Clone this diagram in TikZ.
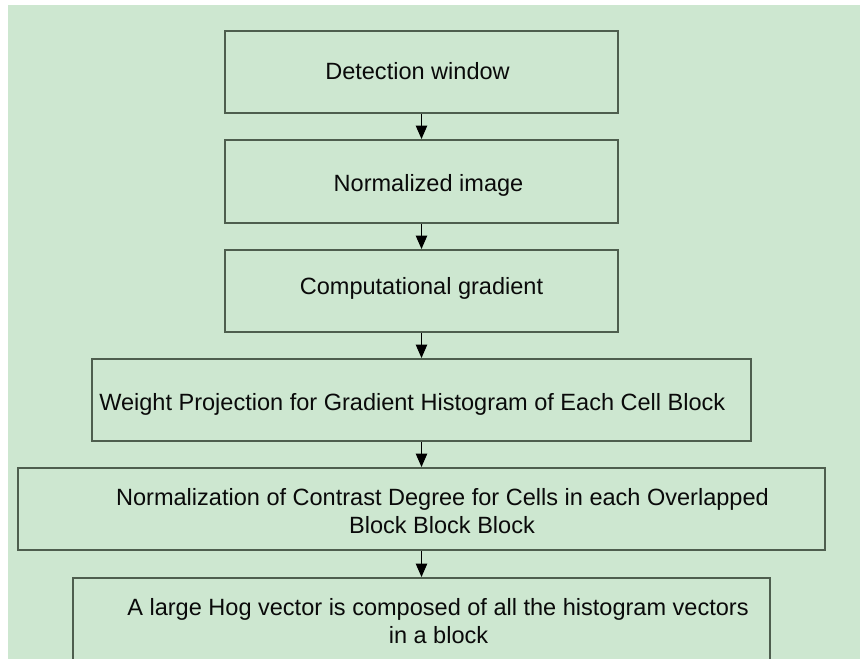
\documentclass[tikz,border=0pt]{standalone}
\usepackage{fontspec}
\setmainfont{Liberation Sans}
\usetikzlibrary{arrows.meta}
\definecolor{bgreen}{HTML}{CDE7D0}
\definecolor{edgec}{HTML}{4E5E4E}
\definecolor{inkc}{HTML}{0A0A0A}
\tikzset{
  stepbox/.style={draw=edgec, line width=1.5pt, fill=bgreen, inner sep=0pt, rectangle},
  label/.style={anchor=base, inner sep=0pt, text=inkc, font=\fontsize{17.65}{21}\selectfont},
  flow/.style={draw=black, line width=0.9pt, -{Triangle[length=10pt,width=8.5pt]}}
}
\begin{document}
\begin{tikzpicture}[x=0.75pt,y=-0.75pt]
  % page and background
  \useasboundingbox (0,0) rectangle (860,659);
  \fill[white] (0,0) rectangle (860,659);
  \fill[bgreen] (8,5) rectangle (860,659);

  % process boxes
  \node[stepbox, minimum width=294.75pt, minimum height=61.5pt] (b1) at (421.5,72) {};
  \node[stepbox, minimum width=294.75pt, minimum height=62.25pt] (b2) at (421.5,181.5) {};
  \node[stepbox, minimum width=294.75pt, minimum height=61.5pt] (b3) at (421.5,291) {};
  \node[stepbox, minimum width=494.25pt, minimum height=61.5pt] (b4) at (421.5,400) {};
  \node[stepbox, minimum width=605.25pt, minimum height=61.5pt] (b5) at (421.5,509) {};
  \node[stepbox, minimum width=522.75pt, minimum height=63pt] (b6) at (421.5,620) {};

  % box texts
  \node[label] (t1) at (417.5,80) {Detection window};
  \node[label] (t2) at (428.5,192) {Normalized image};
  \node[label] (t3) at (421.5,295) {Computational gradient};
  \node[label, anchor=base west] (t4) at (99,410) {Weight Projection for Gradient Histogram of Each Cell Block};
  \node[label] (t5a) at (442.5,505) {Normalization of Contrast Degree for Cells in each Overlapped};
  \node[label] (t5b) at (442,533) {Block Block Block};
  \node[label] (t6a) at (438,615) {A large Hog vector is composed of all the histogram vectors};
  \node[label] (t6b) at (438.5,643) {in a block};

  % connectors
  \draw[flow] (b1) -- (b2);
  \draw[flow] (b2) -- (b3);
  \draw[flow] (b3) -- (b4);
  \draw[flow] (b4) -- (b5);
  \draw[flow] (b5) -- (b6);
\end{tikzpicture}
\end{document}
